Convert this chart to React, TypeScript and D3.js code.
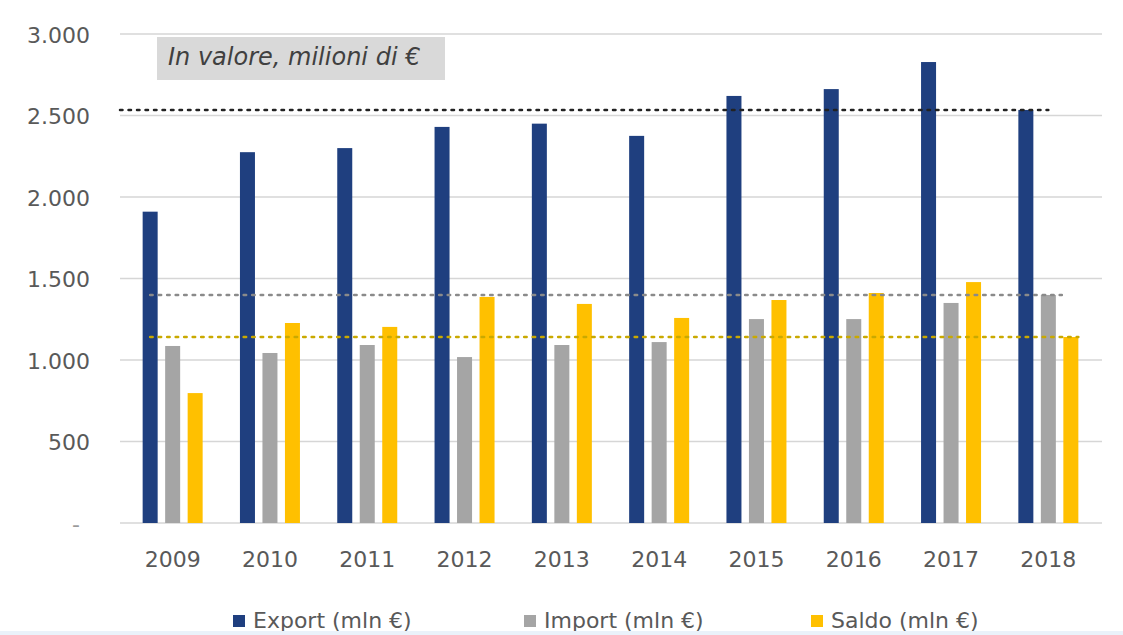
import React from "react";
import * as d3 from "d3";

const years = ["2009", "2010", "2011", "2012", "2013", "2014", "2015", "2016", "2017", "2018"];
const exportVals = [1910, 2275, 2300, 2430, 2450, 2375, 2620, 2662, 2828, 2534];
const importVals = [1086, 1043, 1092, 1018, 1092, 1110, 1251, 1251, 1350, 1399];
const saldoVals = [797, 1227, 1203, 1387, 1344, 1258, 1368, 1411, 1478, 1141];
const seriesNames = ["Export (mln €)", "Import (mln €)", "Saldo (mln €)"];
const seriesColors = ["#1F3F7F", "#A5A5A5", "#FFC000"];
const yTicks = [0, 500, 1000, 1500, 2000, 2500, 3000];
const boxLabel = "In valore, milioni di €";

const W = 1123;
const H = 635;
const FONT = "'DejaVu Sans', sans-serif";

// labels in the picture: thousands with a dot, zero shown as "-"
const fmt = (v: number) => (v === 0 ? "-" : d3.format(",")(v).replace(/,/g, "."));

export default function App() {
  const series = [exportVals, importVals, saldoVals];

  const x = d3.scaleBand<string>().domain(years).range([124, 1097]).padding(0);
  const y = d3.scaleLinear().domain([0, 3000]).range([523, 34]);

  const groupW = 60;
  const x1 = d3
    .scaleBand<number>()
    .domain([0, 1, 2])
    .range([(x.bandwidth() - groupW) / 2, (x.bandwidth() + groupW) / 2])
    .paddingInner(0.333);
  const bw = x1.bandwidth();

  const gridX0 = 120;
  const gridX1 = 1102;

  // dotted reference lines at the last year's level of each series
  const last = years[years.length - 1];
  const first = years[0];
  const refLines = [
    {
      value: exportVals[exportVals.length - 1],
      color: "#222222",
      x0: gridX0,
      x1: (x(last) as number) + x.bandwidth() / 2,
    },
    {
      value: importVals[importVals.length - 1],
      color: "#8a8a8a",
      x0: (x(first) as number) + (x1(0) as number) + bw / 2,
      x1: (x(last) as number) + (x1(1) as number) + bw + 6,
    },
    {
      value: saldoVals[saldoVals.length - 1],
      color: "#c9a900",
      x0: (x(first) as number) + (x1(0) as number) + bw / 2,
      x1: (x(last) as number) + (x1(2) as number) + bw,
    },
  ];

  const legendX = [233, 524, 811];

  return (
    <svg
      width={W}
      height={H}
      viewBox={`0 0 ${W} ${H}`}
      style={{ position: "absolute", left: 0, top: 0, background: "#fff" }}
      fontFamily={FONT}
    >
      <rect x={0} y={0} width={W} height={H} fill="#ffffff" />

      {/* gridlines */}
      {yTicks.map((t) => (
        <line key={t} x1={gridX0} x2={gridX1} y1={y(t)} y2={y(t)} stroke="#d6d6d6" strokeWidth={1.5} />
      ))}

      {/* y labels */}
      {yTicks.map((t) => (
        <text
          key={"l" + t}
          x={t === 0 ? 80 : 90}
          y={y(t) + 1}
          textAnchor="end"
          dominantBaseline="central"
          fontSize={22}
          fill={t === 0 ? "#9a9a9a" : "#595959"}
        >
          {fmt(t)}
        </text>
      ))}

      {/* bars */}
      {years.map((yr, i) => (
        <g key={yr} transform={`translate(${x(yr)},0)`}>
          {series.map((s, k) => (
            <rect
              key={k}
              x={x1(k)}
              y={y(s[i])}
              width={bw}
              height={y(0) - y(s[i])}
              fill={seriesColors[k]}
            />
          ))}
        </g>
      ))}

      {/* reference lines */}
      {refLines.map((r, i) => (
        <line
          key={"r" + i}
          x1={r.x0}
          x2={r.x1}
          y1={y(r.value)}
          y2={y(r.value)}
          stroke={r.color}
          strokeWidth={2.5}
          strokeDasharray="2.5 6"
          strokeLinecap="round"
        />
      ))}

      {/* x labels */}
      {years.map((yr) => (
        <text
          key={"x" + yr}
          x={(x(yr) as number) + x.bandwidth() / 2}
          y={567}
          textAnchor="middle"
          fontSize={22}
          fill="#595959"
        >
          {yr}
        </text>
      ))}

      {/* label box */}
      <rect x={157} y={37} width={288} height={43} fill="#d9d9d9" />
      <text x={168} y={65} fontSize={24} fontStyle="italic" fill="#404040">
        {boxLabel}
      </text>

      {/* legend */}
      {seriesNames.map((name, k) => (
        <g key={name} transform={`translate(${legendX[k]},0)`}>
          <rect x={0} y={615} width={12} height={12} fill={seriesColors[k]} />
          <text x={20} y={628} fontSize={22} fill="#595959">
            {name}
          </text>
        </g>
      ))}

      <rect x={0} y={631} width={W} height={4} fill="#eaf2fa" />
    </svg>
  );
}
